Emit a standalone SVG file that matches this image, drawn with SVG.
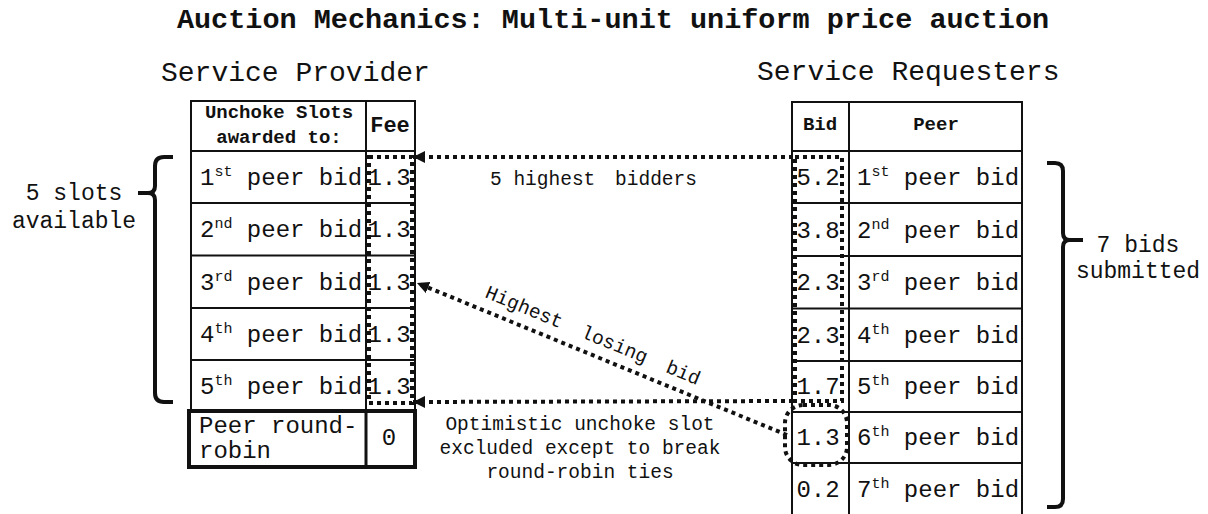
<svg xmlns="http://www.w3.org/2000/svg" width="1208" height="514" viewBox="0 0 1208 514">
  <style>
    text { font-family: "Liberation Mono", "Courier New", monospace; fill: #111; }
    .title { font-size: 28.5px; font-weight: bold; }
    .side { font-size: 28px; }
    .hdr { font-size: 19px; font-weight: bold; }
    .fee { font-size: 22px; font-weight: bold; }
    .cell { font-size: 24px; }
    .sup { font-size: 15px; }
    .lbl { font-size: 23px; }
    .note { font-size: 19.5px; }
    .grid { stroke: #111; stroke-width: 2; fill: none; }
    .thick { stroke: #111; stroke-width: 4; fill: none; }
    .dot { stroke: #111; stroke-width: 4; stroke-dasharray: 4 4; fill: none; }
    .brace { stroke: #111; stroke-width: 4; fill: none; stroke-linecap: butt; }
  </style>
  <defs>
    <marker id="arrow" markerUnits="userSpaceOnUse" markerWidth="14" markerHeight="12" refX="12" refY="6" orient="auto">
      <path d="M0,0 L12,6 L0,12 Z" fill="#111"/>
    </marker>
  </defs>
  <rect width="1208" height="514" fill="#fff"/>

  <g id="title">
    <text class="title" x="613" y="28" text-anchor="middle">Auction Mechanics: Multi-unit uniform price auction</text>
  </g>
  <g id="provider-heading">
    <text class="side" x="161" y="81">Service Provider</text>
  </g>
  <g id="requester-heading">
    <text class="side" x="757" y="80">Service Requesters</text>
  </g>

  <g id="provider-table">
    <rect class="grid" x="191" y="101" width="224" height="310"/>
    <line class="grid" x1="366" y1="101" x2="366" y2="411"/>
    <line class="grid" x1="191" y1="151" x2="415" y2="151"/>
    <line class="grid" x1="191" y1="203" x2="415" y2="203"/>
    <line class="grid" x1="191" y1="255.5" x2="415" y2="255.5"/>
    <line class="grid" x1="191" y1="308" x2="415" y2="308"/>
    <line class="grid" x1="191" y1="360" x2="415" y2="360"/>
    <text class="hdr" x="279" y="118" text-anchor="middle">Unchoke Slots</text>
    <text class="hdr" x="279" y="143" text-anchor="middle">awarded to:</text>
    <text class="fee" x="390" y="132" text-anchor="middle">Fee</text>
    <text class="cell" x="200" y="185">1<tspan class="sup" dy="-9">st</tspan><tspan dy="9"> peer bid</tspan></text>
    <text class="cell" x="200" y="237">2<tspan class="sup" dy="-9">nd</tspan><tspan dy="9"> peer bid</tspan></text>
    <text class="cell" x="200" y="290">3<tspan class="sup" dy="-9">rd</tspan><tspan dy="9"> peer bid</tspan></text>
    <text class="cell" x="200" y="342">4<tspan class="sup" dy="-9">th</tspan><tspan dy="9"> peer bid</tspan></text>
    <text class="cell" x="200" y="393.5">5<tspan class="sup" dy="-9">th</tspan><tspan dy="9"> peer bid</tspan></text>
    <text class="cell" x="389" y="185" text-anchor="middle">1.3</text>
    <text class="cell" x="389" y="237" text-anchor="middle">1.3</text>
    <text class="cell" x="389" y="290" text-anchor="middle">1.3</text>
    <text class="cell" x="389" y="342" text-anchor="middle">1.3</text>
    <text class="cell" x="389" y="393.5" text-anchor="middle">1.3</text>
    <rect class="dot" x="369" y="157" width="43" height="246"/>
  </g>

  <g id="round-robin-slot">
    <rect class="thick" x="189" y="411" width="226" height="56"/>
    <line x1="366" y1="411" x2="366" y2="467" stroke="#111" stroke-width="3"/>
    <text class="cell" x="199" y="433">Peer round-</text>
    <text class="cell" x="199" y="458">robin</text>
    <text class="cell" x="389" y="445" text-anchor="middle">0</text>
  </g>

  <g id="requester-table">
    <rect class="grid" x="792" y="102" width="230" height="414"/>
    <line class="grid" x1="849" y1="102" x2="849" y2="516"/>
    <line class="grid" x1="792" y1="151" x2="1022" y2="151"/>
    <line class="grid" x1="792" y1="203" x2="1022" y2="203"/>
    <line class="grid" x1="792" y1="256" x2="1022" y2="256"/>
    <line class="grid" x1="792" y1="308.5" x2="1022" y2="308.5"/>
    <line class="grid" x1="792" y1="361" x2="1022" y2="361"/>
    <line class="grid" x1="792" y1="412" x2="1022" y2="412"/>
    <line class="grid" x1="792" y1="463" x2="1022" y2="463"/>
    <text class="hdr" x="820" y="130" text-anchor="middle">Bid</text>
    <text class="hdr" x="936" y="130" text-anchor="middle">Peer</text>
    <text class="cell" x="818" y="185" text-anchor="middle">5.2</text>
    <text class="cell" x="818" y="237.5" text-anchor="middle">3.8</text>
    <text class="cell" x="818" y="290" text-anchor="middle">2.3</text>
    <text class="cell" x="818" y="342.5" text-anchor="middle">2.3</text>
    <text class="cell" x="818" y="394" text-anchor="middle">1.7</text>
    <text class="cell" x="818" y="445" text-anchor="middle">1.3</text>
    <text class="cell" x="818" y="497" text-anchor="middle">0.2</text>
    <text class="cell" x="857" y="185">1<tspan class="sup" dy="-9">st</tspan><tspan dy="9"> peer bid</tspan></text>
    <text class="cell" x="857" y="237.5">2<tspan class="sup" dy="-9">nd</tspan><tspan dy="9"> peer bid</tspan></text>
    <text class="cell" x="857" y="290">3<tspan class="sup" dy="-9">rd</tspan><tspan dy="9"> peer bid</tspan></text>
    <text class="cell" x="857" y="342.5">4<tspan class="sup" dy="-9">th</tspan><tspan dy="9"> peer bid</tspan></text>
    <text class="cell" x="857" y="394">5<tspan class="sup" dy="-9">th</tspan><tspan dy="9"> peer bid</tspan></text>
    <text class="cell" x="857" y="445">6<tspan class="sup" dy="-9">th</tspan><tspan dy="9"> peer bid</tspan></text>
    <text class="cell" x="857" y="497">7<tspan class="sup" dy="-9">th</tspan><tspan dy="9"> peer bid</tspan></text>
    <rect class="dot" x="795" y="157" width="47" height="244"/>
    <rect class="dot" x="785" y="405" width="62" height="60" rx="18" ry="18"/>
  </g>

  <g id="slots-brace">
    <path class="brace" d="M173,157 H164 Q155,157 155,166 V186 Q155,193 148,193 H138 M148,193 Q155,193 155,200 V393 Q155,402 164,402 H173"/>
    <text class="lbl" x="74" y="200" text-anchor="middle">5 slots</text>
    <text class="lbl" x="74" y="228" text-anchor="middle">available</text>
  </g>

  <g id="bids-brace">
    <path class="brace" d="M1047,163 H1055 Q1063,163 1063,171 V233 Q1063,240 1070,240 H1083 M1070,240 Q1063,240 1063,247 V499 Q1063,507 1055,507 H1047"/>
    <text class="lbl" x="1138" y="252" text-anchor="middle">7 bids</text>
    <text class="lbl" x="1138" y="278" text-anchor="middle">submitted</text>
  </g>

  <g id="connectors">
    <line class="dot" x1="793" y1="157" x2="413" y2="157" marker-end="url(#arrow)"/>
    <line class="dot" x1="793" y1="401" x2="413" y2="402" marker-end="url(#arrow)"/>
    <line class="dot" x1="787" y1="435" x2="417" y2="283" marker-end="url(#arrow)"/>
  </g>

  <g id="connector-labels">
    <text class="note" x="490" y="185">5 highest<tspan dx="8"> bidders</tspan></text>
    <text class="note" x="484" y="297" transform="rotate(22.5 484 297)" word-spacing="10">Highest losing bid</text>
    <text class="note" x="580" y="430" text-anchor="middle">Optimistic unchoke slot</text>
    <text class="note" x="580" y="454" text-anchor="middle">excluded except to break</text>
    <text class="note" x="580" y="478" text-anchor="middle">round-robin ties</text>
  </g>
</svg>
